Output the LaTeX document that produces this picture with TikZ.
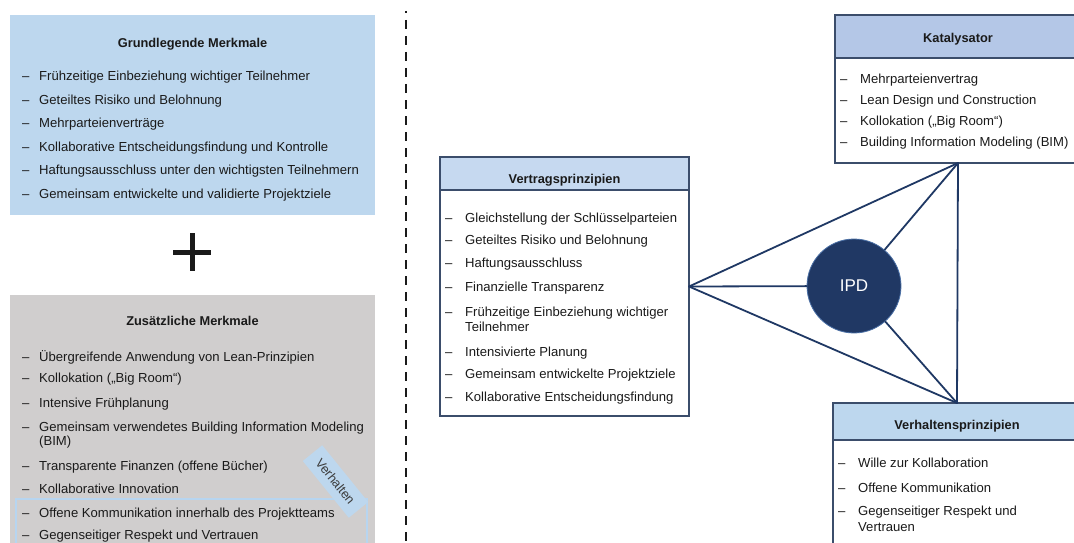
\documentclass[tikz,border=0pt]{standalone}
\usepackage{fontspec}
\setmainfont{Liberation Sans}
\definecolor{paleblue}{HTML}{BDD7EE}
\definecolor{groupblue}{HTML}{B7D5F0}
\definecolor{hdrblue}{HTML}{C6D9F0}
\definecolor{katblue}{HTML}{B4C7E7}
\definecolor{paleGray}{HTML}{D0CECE}
\definecolor{frame}{HTML}{3B4D6B}
\definecolor{navy}{HTML}{1F3864}
\definecolor{ipdfill}{HTML}{203864}
\definecolor{ipdring}{HTML}{4A6FA5}
\definecolor{ink}{HTML}{1A1A1A}
\newcommand{\itemfont}{\fontsize{13.1}{14.5}\selectfont}
\newcommand{\headfont}{\fontsize{12.8}{14.5}\selectfont\bfseries}
\tikzset{
  panel/.style={inner sep=0pt, outer sep=0pt},
  listbox/.style={panel, draw=frame, line width=1.2pt, fill=white},
  header/.style 2 args={path picture={
      \fill[#1] (path picture bounding box.north west) rectangle
        ([yshift=-#2]path picture bounding box.north east);
      \draw[frame, line width=1.2pt] ([yshift=-#2]path picture bounding box.north west) --
        ([yshift=-#2]path picture bounding box.north east);}},
  title/.style={anchor=base, inner sep=0pt, font=\headfont, text=ink},
  bullet/.style={anchor=base west, inner sep=0pt, font=\itemfont, text=ink},
  entry/.style={anchor=base west, inner sep=0pt, font=\itemfont, text=ink, align=left},
  link/.style={navy, line width=1.8pt, line cap=round, line join=round}
}
\begin{document}
\begin{tikzpicture}[x=1pt, y=-1pt]
\useasboundingbox (0,0) rectangle (1074,543);
\clip (0,0) rectangle (1074,543);

% ---- left column: basic features ----
\node[panel, fill=paleblue, minimum width=365pt, minimum height=200pt] (grund) at (192.5,115) {};
\node[title] (grundT) at (192.5,47.5) {Grundlegende Merkmale};
\foreach \y/\t [count=\i] in {
  81/{Frühzeitige Einbeziehung wichtiger Teilnehmer},
  104.5/{Geteiltes Risiko und Belohnung},
  127.5/{Mehrparteienverträge},
  151/{Kollaborative Entscheidungsfindung und Kontrolle},
  174.5/{Haftungsausschluss unter den wichtigsten Teilnehmern},
  198/{Gemeinsam entwickelte und validierte Projektziele}}{
  \node[bullet] (gd\i) at (22,\y) {–};
  \node[entry] (gi\i) at (39,\y) {\t};
}

% plus sign
\draw[line width=5pt, ink] (173,252) -- (211,252) (192,233) -- (192,271);

% ---- left column: additional features ----
% (dash baseline / text baseline of the last line / text)
\node[panel, fill=paleGray, minimum width=365pt, minimum height=305pt] (zus) at (192.5,447.5) {};
\node[title] (zusT) at (192.5,325) {Zusätzliche Merkmale};
\foreach \y/\b/\t [count=\i] in {
  361/361/{Übergreifende Anwendung von Lean-Prinzipien},
  382.5/382.5/{Kollokation („Big Room“)},
  407.5/407.5/{Intensive Frühplanung},
  431.5/445.5/{Gemeinsam verwendetes Building Information Modeling\\(BIM)},
  470.5/470.5/{Transparente Finanzen (offene Bücher)},
  493.5/493.5/{Kollaborative Innovation},
  517.5/517.5/{Offene Kommunikation innerhalb des Projektteams},
  539.5/539.5/{Gegenseitiger Respekt und Vertrauen}}{
  \node[bullet] (zd\i) at (22,\y) {–};
  \node[entry, font=\fontsize{13.1}{14}\selectfont] (zi\i) at (39,\b) {\t};
}
% behaviour group frame and its tag
\node[panel, draw=groupblue, line width=2pt, minimum width=351pt, minimum height=80pt] (behav) at (191.5,539) {};
\node[panel, fill=paleblue, rotate=-51, minimum width=73pt, minimum height=25pt,
      font=\fontsize{12.8}{14}\selectfont, text=ink!85] (vlab) at (335.5,481.5) {Verhalten};

% ---- dashed divider ----
\draw[line width=2pt, ink, dash pattern=on 9pt off 7pt, dash phase=7pt] (405.5,11) -- (405.5,543);

% ---- contract principles ----
\node[listbox, header={hdrblue}{33pt}, minimum width=249pt, minimum height=259pt] (vp) at (564.5,286.5) {};
\node[title] (vpT) at (564.5,183.5) {Vertragsprinzipien};
\foreach \y/\b/\t [count=\i] in {
  222.5/222.5/{Gleichstellung der Schlüsselparteien},
  244.5/244.5/{Geteiltes Risiko und Belohnung},
  267.5/267.5/{Haftungsausschluss},
  291.5/291.5/{Finanzielle Transparenz},
  316.5/331/{Frühzeitige Einbeziehung wichtiger\\Teilnehmer},
  356.5/356.5/{Intensivierte Planung},
  378.5/378.5/{Gemeinsam entwickelte Projektziele},
  401.5/401.5/{Kollaborative Entscheidungsfindung}}{
  \node[bullet] (vd\i) at (445,\y) {–};
  \node[entry] (vi\i) at (465,\b) {\t};
}

% ---- catalyst ----
\node[listbox, header={katblue}{43pt}, minimum width=246pt, minimum height=148pt] (kat) at (958,89) {};
\node[title] (katT) at (958,42.5) {Katalysator};
\foreach \y/\t [count=\i] in {
  84/{Mehrparteienvertrag},
  104.5/{Lean Design und Construction},
  125/{Kollokation („Big Room“)},
  146/{Building Information Modeling (BIM)}}{
  \node[bullet] (kd\i) at (840,\y) {–};
  \node[entry] (ki\i) at (860,\y) {\t};
}

% ---- behavioural principles ----
\node[listbox, header={paleblue}{37pt}, minimum width=248pt, minimum height=197pt] (verh) at (957,501.5) {};
\node[title] (verhT) at (957,429.5) {Verhaltensprinzipien};
\foreach \y/\b/\t [count=\i] in {
  467.5/467.5/{Wille zur Kollaboration},
  492.5/492.5/{Offene Kommunikation},
  515.5/531/{Gegenseitiger Respekt und\\Vertrauen}}{
  \node[bullet] (hd\i) at (838,\y) {–};
  \node[entry, font=\fontsize{13.1}{15.5}\selectfont] (hi\i) at (858,\b) {\t};
}

% ---- IPD core and its links ----
\node[circle, fill=ipdfill, draw=ipdring, line width=0.8pt, minimum size=94pt, inner sep=0pt,
      text=white, font=\fontsize{17}{20}\selectfont] (ipd) at (854,286) {IPD};
\draw[link] (vp.east) -- (kat.south);
\draw[link] (vp.east) -- (verh.north);
\draw[link] (vp.east) -- (ipd);
\draw[link] (ipd) -- (kat.south);
\draw[link] (ipd) -- (verh.north);
\draw[link] (kat.south) -- (verh.north);
\end{tikzpicture}
\end{document}
